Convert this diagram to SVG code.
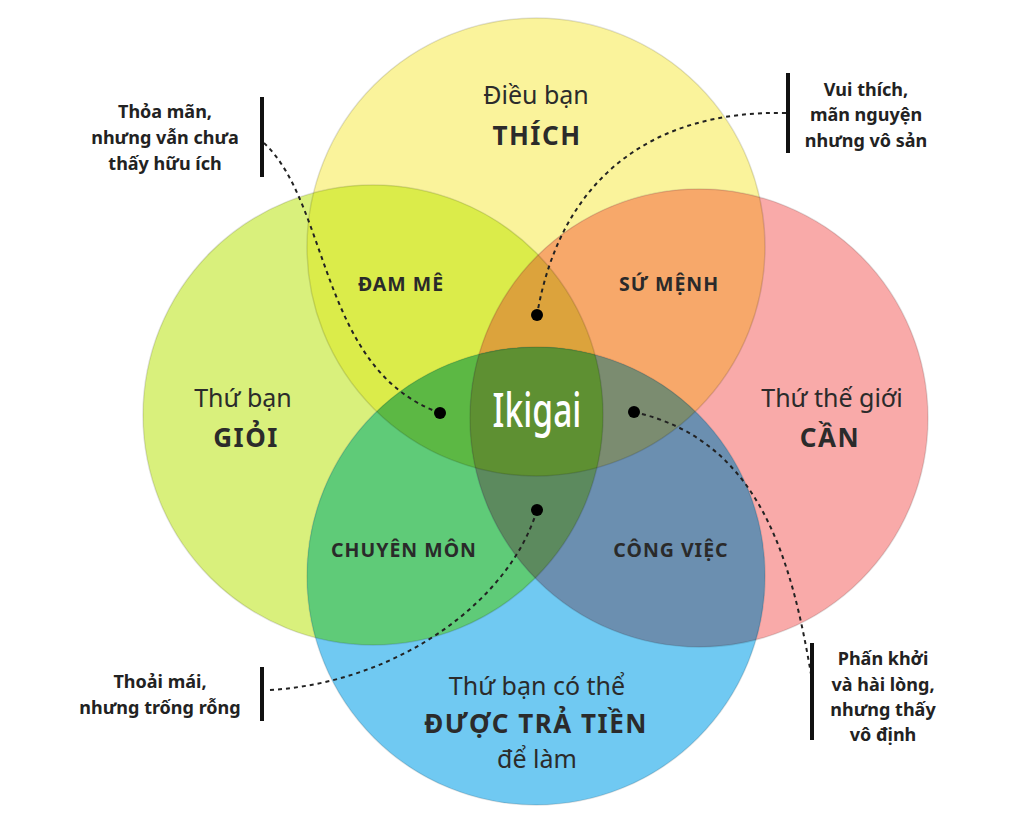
<svg xmlns="http://www.w3.org/2000/svg" width="1024" height="820" viewBox="0 0 1024 820">
<style>
.lbl{font-family:"Noto Sans","DejaVu Sans",sans-serif;fill:#2b2b2b;text-anchor:middle}
.reg{font-size:25px}
.big{font-size:26px;font-weight:bold;letter-spacing:1.5px}
.ov{font-size:19.5px;font-weight:bold;fill:#2a2a2a;letter-spacing:1px}
.co{font-family:"Noto Sans","DejaVu Sans",sans-serif;font-size:18px;font-weight:bold;fill:#222;text-anchor:middle}
.bar{stroke:#111;stroke-width:4}
.dash{fill:none;stroke:#222;stroke-width:2;stroke-dasharray:4 4}
.edge{fill:none;stroke:#000;stroke-opacity:0.12;stroke-width:1.5}
</style>
<defs>
<clipPath id="cY"><circle cx="536" cy="247" r="229"/></clipPath>
<clipPath id="cG"><circle cx="373" cy="415" r="230"/></clipPath>
<clipPath id="cP"><circle cx="699" cy="418" r="229"/></clipPath>
<clipPath id="cB"><circle cx="536" cy="576" r="229"/></clipPath>
</defs>
<rect width="1024" height="820" fill="#ffffff"/>
<g id="circle-yellow"><circle cx="536" cy="247" r="229" fill="#faf39b"/></g>
<g id="circle-green"><circle cx="373" cy="415" r="230" fill="#d9f07c"/></g>
<g id="circle-pink"><circle cx="699" cy="418" r="229" fill="#f9aaa9"/></g>
<g id="circle-blue"><circle cx="536" cy="576" r="229" fill="#70c9f2"/></g>
<g id="overlaps">
<g clip-path="url(#cY)"><circle cx="373" cy="415" r="230" fill="#dbec4a"/></g>
<g clip-path="url(#cY)"><circle cx="699" cy="418" r="229" fill="#f7a86a"/></g>
<g clip-path="url(#cB)"><circle cx="373" cy="415" r="230" fill="#5fcb78"/></g>
<g clip-path="url(#cB)"><circle cx="699" cy="418" r="229" fill="#6b8fb0"/></g>
<g clip-path="url(#cY)"><g clip-path="url(#cG)"><circle cx="699" cy="418" r="229" fill="#dca33c"/></g></g>
<g clip-path="url(#cY)"><g clip-path="url(#cG)"><circle cx="536" cy="576" r="229" fill="#5cb844"/></g></g>
<g clip-path="url(#cY)"><g clip-path="url(#cP)"><circle cx="536" cy="576" r="229" fill="#7b8c70"/></g></g>
<g clip-path="url(#cB)"><g clip-path="url(#cG)"><circle cx="699" cy="418" r="229" fill="#5c8a5e"/></g></g>
<g clip-path="url(#cY)"><g clip-path="url(#cG)"><g clip-path="url(#cP)"><circle cx="536" cy="576" r="229" fill="#5e9032"/></g></g></g>
</g>
<g id="outlines">
<circle class="edge" cx="536" cy="247" r="229"/>
<circle class="edge" cx="373" cy="415" r="230"/>
<circle class="edge" cx="699" cy="418" r="229"/>
<circle class="edge" cx="536" cy="576" r="229"/>
</g>
<g id="label-thich"><text class="lbl reg" x="536" y="104">Điều bạn</text><text class="lbl big" x="537" y="145">THÍCH</text></g>
<g id="label-gioi"><text class="lbl reg" x="243" y="407">Thứ bạn</text><text class="lbl big" x="246" y="447">GIỎI</text></g>
<g id="label-can"><text class="lbl reg" x="832" y="407">Thứ thế giới</text><text class="lbl big" x="830" y="447">CẦN</text></g>
<g id="label-tratien"><text class="lbl reg" x="537" y="695">Thứ bạn có thể</text><text class="lbl big" x="536" y="733">ĐƯỢC TRẢ TIỀN</text><text class="lbl reg" x="537" y="768">để làm</text></g>
<g id="label-damme"><text class="lbl ov" x="401" y="291">ĐAM MÊ</text></g>
<g id="label-sumenh"><text class="lbl ov" x="669" y="291">SỨ MỆNH</text></g>
<g id="label-chuyenmon"><text class="lbl ov" x="404" y="557">CHUYÊN MÔN</text></g>
<g id="label-congviec"><text class="lbl ov" x="671" y="557">CÔNG VIỆC</text></g>
<g id="label-ikigai"><text x="0" y="0" transform="translate(537 427) scale(0.7 1)" font-family="'Noto Sans','DejaVu Sans',sans-serif" font-size="48" font-weight="500" fill="#ffffff" text-anchor="middle">Ikigai</text></g>
<g id="connectors">
<path class="dash" d="M264 143 C330 205 320 370 440 413"/>
<path class="dash" d="M786 113 C650 110 560 180 537 315"/>
<path class="dash" d="M270 690 C400 682 510 600 537 510"/>
<path class="dash" d="M634 412 C760 440 792 560 812 680"/>
<circle cx="440" cy="413" r="6" fill="#000"/>
<circle cx="537" cy="315" r="6" fill="#000"/>
<circle cx="634" cy="412" r="6" fill="#000"/>
<circle cx="537" cy="510" r="6" fill="#000"/>
</g>
<g id="callout-tl"><line class="bar" x1="262" y1="97" x2="262" y2="177"/><text class="co" x="165" y="118">Thỏa mãn,</text><text class="co" x="165" y="144">nhưng vẫn chưa</text><text class="co" x="165" y="170">thấy hữu ích</text></g>
<g id="callout-tr"><line class="bar" x1="788" y1="73" x2="788" y2="153"/><text class="co" x="866" y="96">Vui thích,</text><text class="co" x="866" y="121">mãn nguyện</text><text class="co" x="866" y="147">nhưng vô sản</text></g>
<g id="callout-bl"><line class="bar" x1="262" y1="667" x2="262" y2="721"/><text class="co" x="160" y="688">Thoải mái,</text><text class="co" x="160" y="714">nhưng trống rỗng</text></g>
<g id="callout-br"><line class="bar" x1="812" y1="643" x2="812" y2="740"/><text class="co" x="883" y="665">Phấn khởi</text><text class="co" x="883" y="691">và hài lòng,</text><text class="co" x="883" y="716">nhưng thấy</text><text class="co" x="883" y="741">vô định</text></g>
</svg>
